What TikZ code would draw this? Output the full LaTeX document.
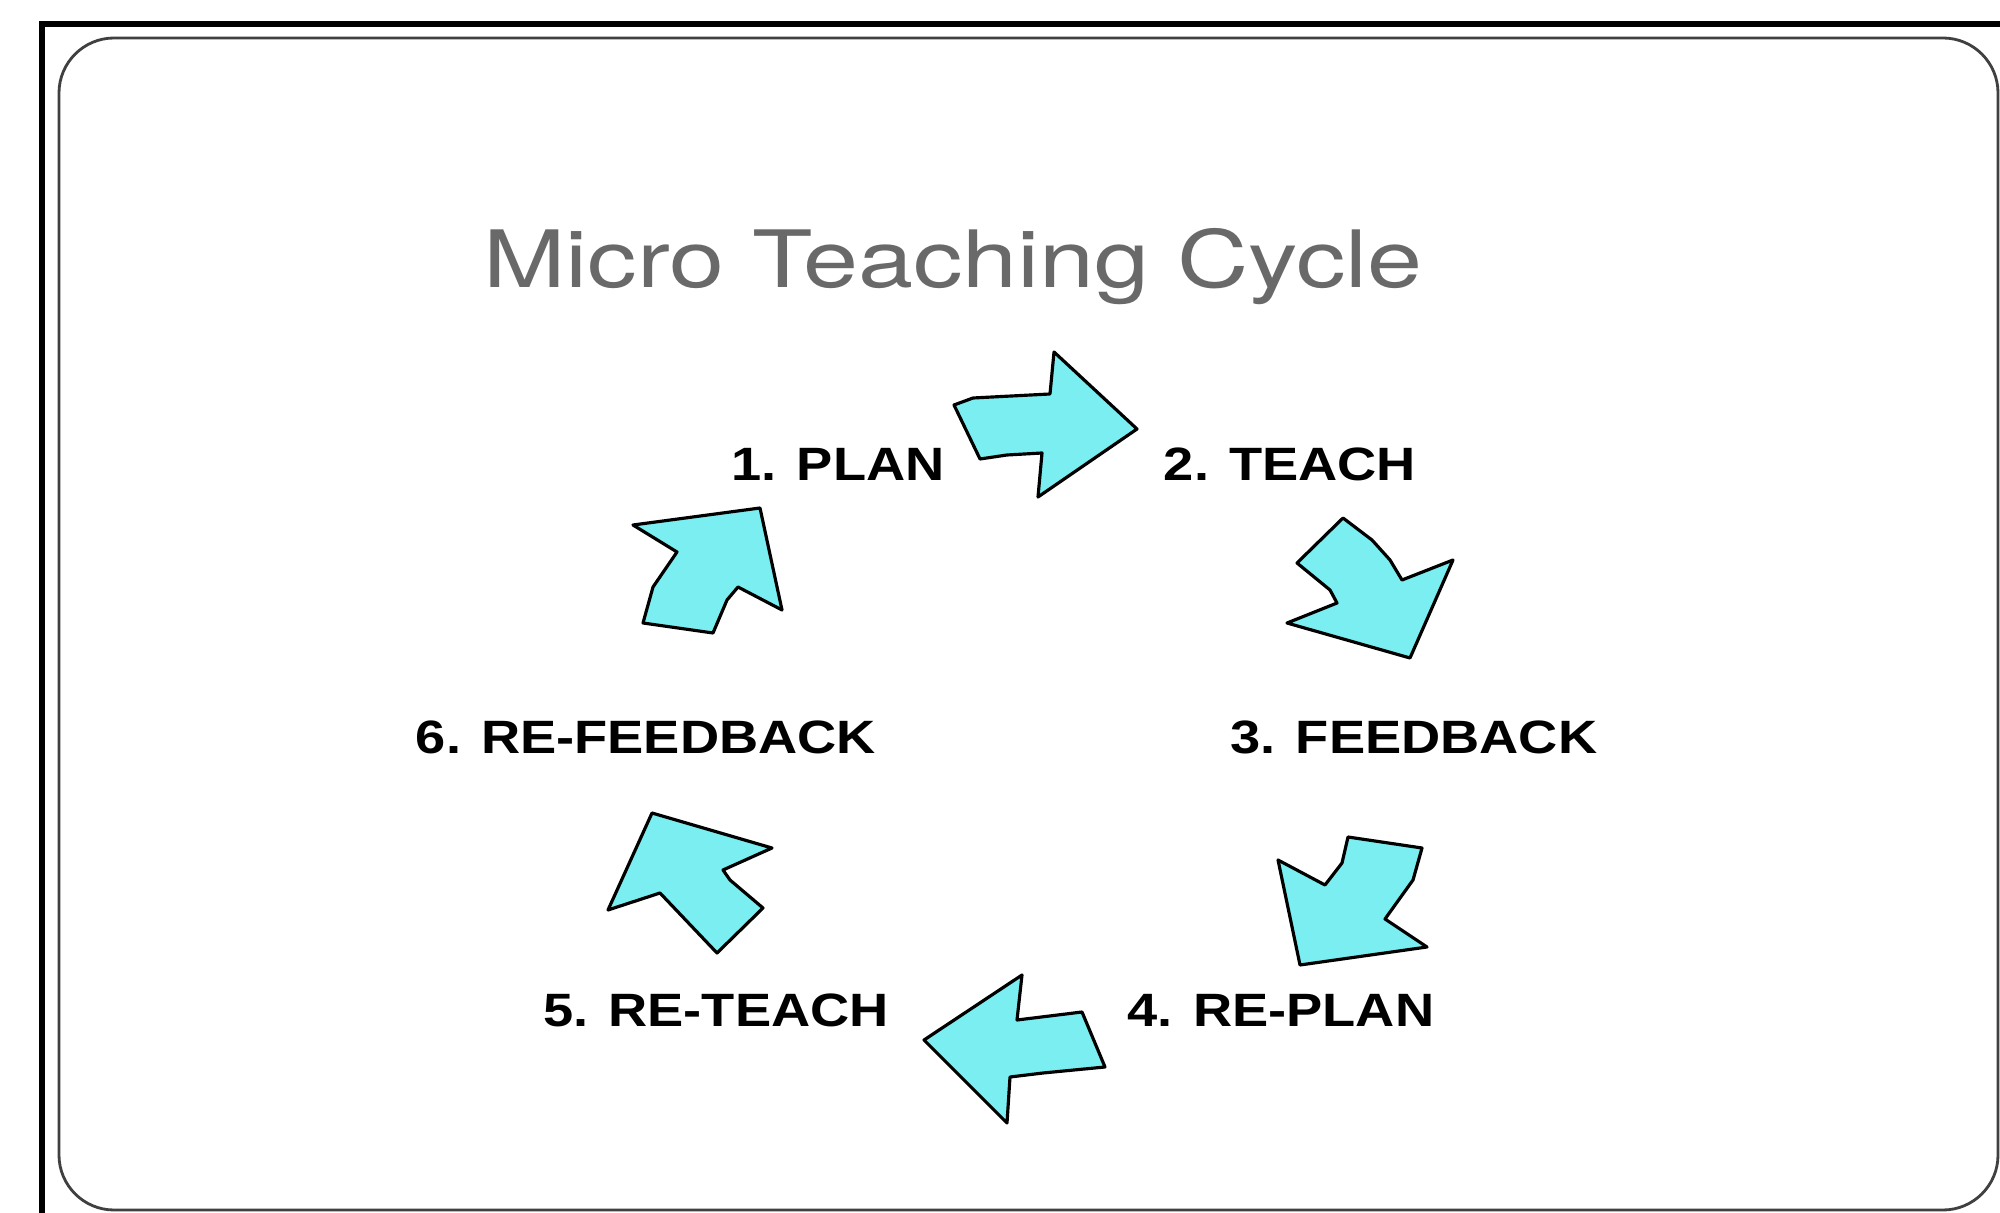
\documentclass[tikz,border=0pt]{standalone}
\usepackage{fontspec}
\setmainfont{Liberation Sans}
\newfontfamily\titlefont{TeX Gyre Heros}
\usetikzlibrary{positioning}
\definecolor{cyanfill}{RGB}{122,238,240}
\definecolor{titlegray}{RGB}{105,105,105}

\begin{document}
\begin{tikzpicture}[x=0.01cm, y=-0.01cm,
    blockarrow/.style={fill=cyanfill, draw=black, line width=0.9pt, line join=round},
    stage/.style={font=\bfseries\fontsize{13.3}{15}\selectfont, anchor=base, inner sep=0pt}]
\useasboundingbox (0,0) rectangle (2000,1213);
\fill[white] (0,0) rectangle (2000,1213);
% slide frame
\draw[line width=1.8pt] (2000,24) -- (42,24) -- (42,1213);
\draw[line width=0.8pt, black!75, rounded corners=0.55cm] (59,38) rectangle (1998,1210);
% title
\node[anchor=base, text=titlegray, inner sep=0pt] (title) at (953,288) {\scalebox{1.25}[1]{\titlefont\fontsize{22.5}{27}\selectfont Micro Teaching Cycle}};
% stages
\node[stage] (plan) at (838,481) {\scalebox{1.16}[1]{1. PLAN}};
\node[stage] (teach) at (1290,481) {\scalebox{1.16}[1]{2. TEACH}};
\node[stage] (feedback) at (1414,753) {\scalebox{1.16}[1]{3. FEEDBACK}};
\node[stage] (replan) at (1281,1026) {\scalebox{1.16}[1]{4. RE-PLAN}};
\node[stage] (reteach) at (716,1026) {\scalebox{1.16}[1]{5. RE-TEACH}};
\node[stage] (refeedback) at (646,753) {\scalebox{1.16}[1]{6. RE-FEEDBACK}};
% block arrows
\draw[blockarrow] (954,405) -- (973,398) -- (1050,394) -- (1054,352) -- (1137,429) -- (1038,497) -- (1042,453) -- (1007,455) -- (980,459) -- cycle;
\draw[blockarrow] (1343,518) -- (1372,540) -- (1390,560) -- (1402,580) -- (1453,560) -- (1410,658) -- (1287,623) -- (1337,603) -- (1330,590) -- (1297,563) -- cycle;
\draw[blockarrow] (1348,837) -- (1422,848) -- (1413,880) -- (1385,919) -- (1427,947) -- (1300,965) -- (1278,860) -- (1325,885) -- (1342,863) -- cycle;
\draw[blockarrow] (924,1040) -- (1022,975) -- (1017,1020) -- (1082,1012) -- (1105,1067) -- (1043,1073) -- (1010,1077) -- (1007,1123) -- cycle;
\draw[blockarrow] (652,813) -- (772,848) -- (723,870) -- (730,880) -- (763,908) -- (717,953) -- (660,893) -- (608,910) -- cycle;
\draw[blockarrow] (633,525) -- (760,508) -- (782,610) -- (738,587) -- (727,600) -- (713,633) -- (643,623) -- (653,587) -- (677,552) -- cycle;
\end{tikzpicture}
\end{document}
